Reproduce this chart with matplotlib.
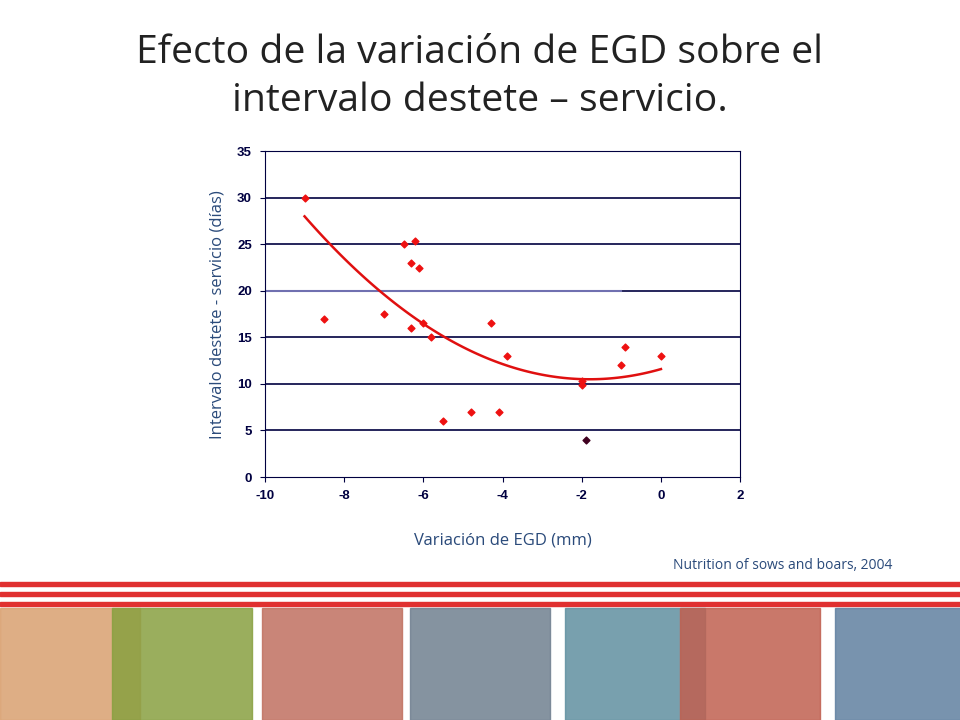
import matplotlib
matplotlib.use("Agg")
import matplotlib.pyplot as plt
import numpy as np
from matplotlib.patches import Rectangle
plt.rcParams["axes.unicode_minus"] = False

x_vals = [-9.0, -8.5, -7.0, -6.5, -6.2, -6.3, -6.1, -6.3, -6.0, -5.8, -5.5, -4.8, -4.3, -4.1, -3.9, -2.0, -2.0, -1.0, -0.9, 0.0]
y_vals = [30, 17, 17.5, 25, 25.4, 23, 22.4, 16, 16.5, 15, 6, 7, 16.5, 7, 13, 10.3, 9.9, 12, 14, 13]
dark_x = [-1.9]
dark_y = [4]
# trend: y = a*(x - xv)^2 + yv
trend_a, trend_xv, trend_yv = 0.3376, -1.8, 10.5
trend_range = (-9.0, 0.0)
ref_y = 20
ref_range = (-10, -1.0)

fig = plt.figure(figsize=(9.6, 7.2), dpi=100)
fig.patch.set_facecolor("white")
fig.text(0.5, 0.893, "Efecto de la variación de EGD sobre el\nintervalo destete – servicio.",
         ha="center", va="center", fontsize=28.2, family="Open Sans", color="#222222", linespacing=1.33)

ax = fig.add_axes([0.276, 0.3375, 0.495, 0.4525])
ax.set_xlim(-10, 2)
ax.set_ylim(0, 35)
ax.set_xticks(range(-10, 3, 2))
ax.set_yticks(range(0, 36, 5))
for y in range(5, 36, 5):
    ax.axhline(y, color="#000040", lw=1.2, zorder=1)
for s in ax.spines.values():
    s.set_color("#000040")
ax.tick_params(colors="#000040", labelsize=9.5, direction="out", pad=6)
for lab in ax.get_xticklabels() + ax.get_yticklabels():
    lab.set_fontweight("bold")
    lab.set_color("#000040")
    lab.set_family("Liberation Sans")
ax.plot(ref_range, [ref_y, ref_y], color="#7070b0", lw=1.5, zorder=2)
xs = np.linspace(*trend_range, 100)
ax.plot(xs, trend_a * (xs - trend_xv) ** 2 + trend_yv, color="#e01010", lw=1.8, zorder=3)
ax.scatter(x_vals, y_vals, marker="D", s=12, color="#ee1111", zorder=4)
ax.scatter(dark_x, dark_y, marker="D", s=12, color="#400020", zorder=4)
ax.set_xlabel("Variación de EGD (mm)", fontsize=12, color="#2a4a7a", family="Open Sans", labelpad=22)
ax.set_ylabel("Intervalo destete - servicio (días)", fontsize=12, color="#2a4a7a", family="Open Sans", labelpad=8)

fig.text(0.93, 0.215, "Nutrition of sows and boars, 2004", ha="right", va="center",
         fontsize=10, color="#2a4a7a", family="Open Sans")

# decorative footer
bg = fig.add_axes([0, 0, 1, 1], zorder=-1)
bg.set_xlim(0, 960); bg.set_ylim(720, 0); bg.axis("off")
for yy in (582, 592, 602):
    bg.add_patch(Rectangle((0, yy), 960, 4, color="#e03030"))
colors = ["#d9a070", "#88a040", "#c07060", "#708090", "#6090a0", "#c06050", "#6080a0"]
xs0 = [0, 112, 262, 410, 565, 680, 835]
for x0, c in zip(xs0, colors):
    bg.add_patch(Rectangle((x0, 608), 140, 112, color=c, alpha=0.85))

fig.savefig("out.png", dpi=100)
